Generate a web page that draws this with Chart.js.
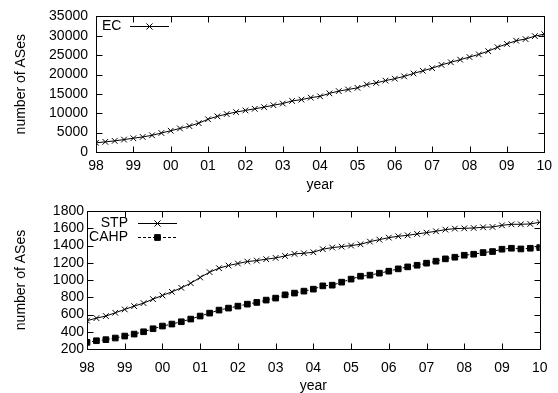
<!DOCTYPE html>
<html>
<head>
<meta charset="utf-8">
<script src="https://cdn.jsdelivr.net/npm/chart.js@4.4.0/dist/chart.umd.min.js"></script>
<style>
  body { margin: 0; background: #fff; }
  .box { position: absolute; left: 0; width: 558px; }
  #top { top: 0; height: 195px; }
  #bottom { top: 195px; height: 198px; }
</style>
</head>
<body>
<div class="box" id="top"><canvas id="ecChart"></canvas></div>
<div class="box" id="bottom"><canvas id="stpChart"></canvas></div>
<script>
// x tick labels, one per year (data is quarterly: 4 points per year)
const yearLabels = ['98', '99', '00', '01', '02', '03', '04', '05', '06', '07', '08', '09', '10'];

const ecValues = [
  2370, 2620, 2870, 3210, 3550, 3890, 4310, 4900,
  5490, 6080, 6680, 7440, 8450, 9210, 9800, 10310,
  10730, 11150, 11580, 12080, 12510, 13180, 13520, 14030,
  14370, 15130, 15720, 16140, 16560, 17410, 17830, 18420,
  18930, 19520, 20280, 20960, 21630, 22480, 23150, 23830,
  24510, 25180, 26030, 27040, 27890, 28730, 29150, 29910,
  30420
];

const stpValues = [
  528, 558, 582, 620, 659, 697, 732, 778,
  821, 863, 909, 963, 1029, 1091, 1137, 1168,
  1191, 1214, 1225, 1241, 1256, 1279, 1303, 1310,
  1322, 1357, 1376, 1387, 1399, 1414, 1445, 1468,
  1491, 1507, 1518, 1534, 1549, 1565, 1584, 1596,
  1599, 1603, 1611, 1615, 1634, 1646, 1646, 1650,
  1669
];

const cahpValues = [
  277, 296, 308, 327, 350, 373, 400, 435,
  466, 489, 516, 547, 582, 616, 651, 674,
  697, 720, 740, 767, 790, 828, 848, 871,
  894, 932, 940, 975, 1010, 1044, 1056, 1079,
  1102, 1129, 1152, 1171, 1195, 1218, 1245, 1264,
  1287, 1299, 1318, 1330, 1357, 1368, 1360, 1368,
  1376
];

const FONT = { family: "'Liberation Sans', Arial, sans-serif", size: 14 };

function toPoints(values) {
  return values.map((v, i) => ({ x: i / 4, y: v }));
}

// gnuplot style frame with inward ticks on all sides, plus the key
const framePlugin = {
  id: 'frame',
  afterDraw(chart, args, opts) {
    const { ctx, chartArea: a, scales: { x, y } } = chart;
    const L = Math.round(a.left) + 0.5, R = Math.round(a.right) + 0.5;
    const T = Math.round(a.top) + 0.5, B = Math.round(a.bottom) + 0.5;
    ctx.save();
    ctx.strokeStyle = '#000';
    ctx.lineWidth = 1;
    ctx.strokeRect(L, T, R - L, B - T);
    ctx.beginPath();
    x.ticks.forEach(t => {
      const px = Math.round(x.getPixelForValue(t.value)) + 0.5;
      ctx.moveTo(px, B); ctx.lineTo(px, B - 6);
      ctx.moveTo(px, T); ctx.lineTo(px, T + 6);
    });
    y.ticks.forEach(t => {
      const py = Math.round(y.getPixelForValue(t.value)) + 0.5;
      ctx.moveTo(L, py); ctx.lineTo(L + 6, py);
      ctx.moveTo(R, py); ctx.lineTo(R - 6, py);
    });
    ctx.stroke();

    // key
    ctx.font = FONT.size + 'px ' + FONT.family;
    ctx.textBaseline = 'middle';
    ctx.fillStyle = '#000';
    (opts.key || []).forEach((k, i) => {
      const ds = chart.data.datasets[i];
      ctx.textAlign = k.align;
      ctx.fillText(ds.label, k.tx, k.y);
      ctx.beginPath();
      ctx.setLineDash(ds.borderDash || []);
      ctx.moveTo(k.x1, k.y + 0.5);
      ctx.lineTo(k.x2, k.y + 0.5);
      ctx.stroke();
      ctx.setLineDash([]);
      Chart.helpers.drawPoint(ctx, {
        pointStyle: ds.pointStyle, radius: ds.pointRadius, rotation: 0, borderWidth: 1
      }, (k.x1 + k.x2) / 2, k.y + 0.5);
      if (ds.pointStyle === 'rect') ctx.fill(); else ctx.stroke();
    });
    ctx.restore();
  }
};

function xScale(labelPad, titlePad, height) {
  return {
    type: 'linear', min: 0, max: 12,
    grid: { display: false, drawTicks: false },
    border: { display: false },
    ticks: {
      stepSize: 1, padding: labelPad, color: '#000', font: FONT, maxRotation: 0, autoSkip: false,
      callback: v => yearLabels[v]
    },
    title: { display: true, text: 'year', color: '#000', font: FONT, padding: { top: 0, bottom: titlePad } },
    afterFit: s => { s.height = height; }
  };
}

function yScale(min, max, step, labelPad, width) {
  return {
    min: min, max: max,
    grid: { display: false, drawTicks: false },
    border: { display: false },
    ticks: { stepSize: step, padding: labelPad, color: '#000', font: FONT, autoSkip: false, callback: v => String(v) },
    title: { display: true, text: 'number of ASes', color: '#000', font: FONT, padding: { top: 13, bottom: 0 } },
    afterFit: s => { s.width = width; }
  };
}

const lineStyle = { borderColor: '#000', backgroundColor: '#000', borderWidth: 1, pointBorderWidth: 1, tension: 0 };

new Chart(document.getElementById('ecChart'), {
  type: 'line',
  data: {
    datasets: [
      { label: 'EC', data: toPoints(ecValues), pointStyle: 'crossRot', pointRadius: 4, ...lineStyle }
    ]
  },
  options: {
    responsive: true, maintainAspectRatio: false, animation: false, devicePixelRatio: 1,
    layout: { padding: { top: 14, right: 11, left: 0, bottom: 0 } },
    scales: { x: xScale(6, 1, 43), y: yScale(0, 35000, 5000, 8, 96) },
    plugins: {
      legend: { display: false }, tooltip: { enabled: false },
      frame: { key: [{ tx: 102, align: 'left', x1: 130, x2: 169, y: 26 }] }
    }
  },
  plugins: [framePlugin]
});

new Chart(document.getElementById('stpChart'), {
  type: 'line',
  data: {
    datasets: [
      { label: 'STP', data: toPoints(stpValues), pointStyle: 'crossRot', pointRadius: 4, ...lineStyle },
      { label: 'CAHP', data: toPoints(cahpValues), pointStyle: 'rect', pointRadius: 4, borderDash: [3, 2], ...lineStyle }
    ]
  },
  options: {
    responsive: true, maintainAspectRatio: false, animation: false, devicePixelRatio: 1,
    layout: { padding: { top: 16, right: 11, left: 0, bottom: 0 } },
    scales: { x: xScale(10.5, -1.5, 44), y: yScale(200, 1800, 200, 3, 87) },
    plugins: {
      legend: { display: false }, tooltip: { enabled: false },
      frame: { key: [
        { tx: 128, align: 'right', x1: 138, x2: 177, y: 28 },
        { tx: 128, align: 'right', x1: 138, x2: 177, y: 42 }
      ] }
    }
  },
  plugins: [framePlugin]
});
</script>
</body>
</html>
